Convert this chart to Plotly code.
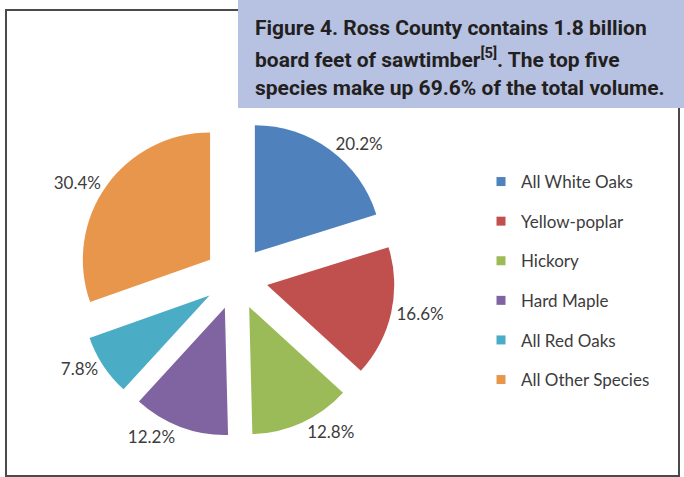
import plotly.graph_objects as go

species = ["All White Oaks", "Yellow-poplar", "Hickory", "Hard Maple", "All Red Oaks", "All Other Species"]
shares = [20.2, 16.6, 12.8, 12.2, 7.8, 30.4]
colors = ["#4f81bd", "#c0504d", "#9bbb59", "#8064a2", "#4bacc6", "#e8964c"]
title_lines = [
    "Figure 4. Ross County contains 1.8 billion",
    "board feet of sawtimber<sup>[5]</sup>. The top five",
    "species make up 69.6% of the total volume.",
]

W, H = 684, 477

fig = go.Figure()
fig.add_trace(go.Pie(
    labels=species, values=shares, sort=False, direction="clockwise", rotation=0,
    marker=dict(colors=colors),
    pull=[0.25] * len(shares),
    texttemplate="%{value:.1f}%", textposition="outside",
    outsidetextfont=dict(family="Lato, Open Sans, sans-serif", size=17, color="#3c3c3c"),
    showlegend=False, hoverinfo="label+percent",
    domain=dict(x=[77 / W, 395 / W], y=[(H - 437) / H, (H - 119) / H]),
))

for i, (name, col) in enumerate(zip(species, colors)):
    fig.add_trace(go.Scatter(
        x=[None], y=[None], mode="markers", name=name,
        marker=dict(symbol="square", size=9, color=col),
        legendgroup=f"g{i}", showlegend=True,
    ))

fig.add_shape(type="rect", xref="paper", yref="paper",
              x0=6 / W, x1=679 / W, y0=(H - 476) / H, y1=(H - 10) / H,
              line=dict(color="#4a4a4a", width=2), fillcolor="rgba(0,0,0,0)", layer="above")
fig.add_shape(type="rect", xref="paper", yref="paper",
              x0=238 / W, x1=1.01, y0=(H - 108) / H, y1=1.01,
              line=dict(width=0), fillcolor="#b7c2e2", layer="above")

centers = [28, 58, 88]
for line, cy in zip(title_lines, centers):
    fig.add_annotation(text=line, xref="paper", yref="paper",
                       x=253 / W, y=(H - cy) / H, xanchor="left", yanchor="middle",
                       showarrow=False, align="left",
                       font=dict(family="Roboto, Liberation Sans, sans-serif",
                                 size=21, color="#231f20", weight="bold"))

fig.update_layout(
    width=W, height=H, margin=dict(l=0, r=0, t=0, b=0, autoexpand=False),
    paper_bgcolor="white", plot_bgcolor="white",
    xaxis=dict(visible=False), yaxis=dict(visible=False),
    legend=dict(x=481 / W, y=(H - 164) / H, xanchor="left", yanchor="top",
                font=dict(family="Lato, Open Sans, sans-serif", size=17, color="#3c3c3c"),
                tracegroupgap=14.5, bgcolor="rgba(0,0,0,0)"),
)

fig.write_html("out.html")
